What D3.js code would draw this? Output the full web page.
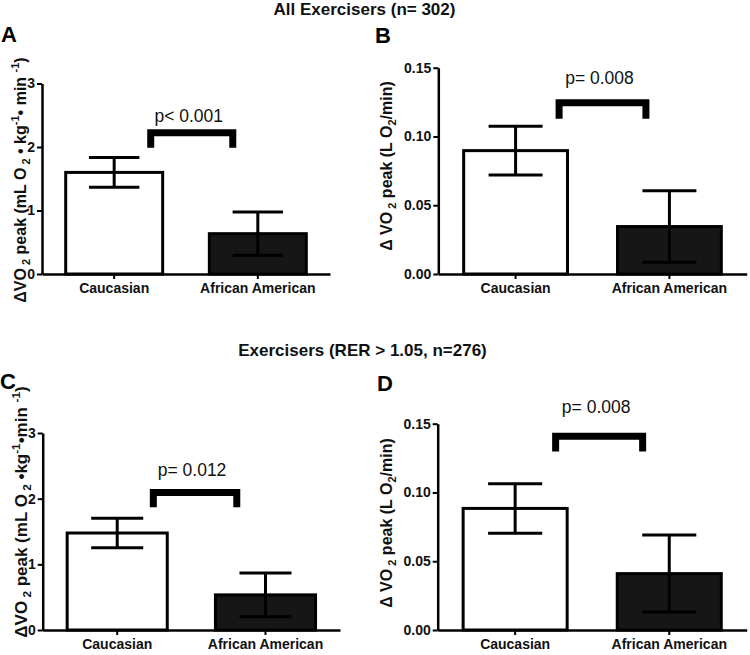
<!DOCTYPE html>
<html>
<head>
<meta charset="utf-8">
<script src="https://cdn.jsdelivr.net/npm/d3@7"></script>
<style>
  html, body { margin: 0; padding: 0; background: #fff; }
  svg { display: block; font-family: "Liberation Sans", Arial, Helvetica, sans-serif; }
</style>
</head>
<body>
<svg id="chart" width="750" height="655"></svg>
<script>
// ---------- DATA ----------
const categories = ["Caucasian", "African American"];

const meansA = [1.60, 0.635];
const semA   = [0.235, 0.34];
const meansB = [0.0897, 0.0345];
const semB   = [0.0178, 0.026];
const meansC = [1.477, 0.535];
const semC   = [0.225, 0.332];
const meansD = [0.0884, 0.041];
const semD   = [0.018, 0.028];

const ticksMassNorm = [0, 1, 2, 3];
const ticksAbsolute = [0, 0.05, 0.10, 0.15];

const pLabels = ["p< 0.001", "p= 0.008", "p= 0.012", "p= 0.008"];
const panelLetters = ["A", "B", "C", "D"];
const titles = ["All Exercisers (n= 302)", "Exercisers (RER > 1.05, n=276)"];

// bracket [leg bottom value, top value] and p-label value, in data units
const bracketA = [1.99, 2.28], pValA = 2.40;
const bracketB = [0.1128, 0.1271], pValB = 0.1383;
const bracketC = [1.87, 2.146], pValC = 2.344;
const bracketD = [0.1297, 0.1434], pValD = 0.158;

const labelMass = [["\u0394VO",""],[" 2","sub"],[" peak (mL O",""],[" 2","sub"],[" \u2022 kg",""],["-1","sup"],["\u2022 min ",""],["-1","sup"],[")",""]];
const labelMassC = [["\u0394VO",""],[" 2","sub"],[" peak (mL O",""],[" 2","sub"],[" \u2022kg",""],["-1","sup"],["\u2022min ",""],["-1","sup"],[")",""]];
const labelAbs = [["\u0394 VO",""],[" 2","sub"],[" peak (L O",""],["2","sub"],["/min)",""]];

// ---------- LAYOUT ----------
const panels = [
  { letter: panelLetters[0], means: meansA, sem: semA, ticks: ticksMassNorm, fmt: d3.format("d"), max: 3,
    x0: 42, x1: 330, y0: 274, yTop: 83.5, bracket: bracketA, brX: [0.23, 0.85], pVal: pValA, p: pLabels[0],
    label: labelMass, labelFs: 16, labelX: 26, labelY: 180, letterX: 1, letterY: 42 },
  { letter: panelLetters[1], means: meansB, sem: semB, ticks: ticksAbsolute, fmt: d3.format(".2f"), max: 0.15,
    x0: 438.3, x1: 746.7, y0: 274, yTop: 67.7, bracket: bracketB, brX: [0.26, 0.87], pVal: pValB, p: pLabels[1],
    label: labelAbs, labelFs: 16, labelX: 392, labelY: 166, letterX: 375, letterY: 43 },
  { letter: panelLetters[2], means: meansC, sem: semC, ticks: ticksMassNorm, fmt: d3.format("d"), max: 3,
    x0: 42.7, x1: 340, y0: 630, yTop: 433, bracket: bracketC, brX: [0.22, 0.83], pVal: pValC, p: pLabels[2],
    label: labelMassC, labelFs: 17, labelX: 27, labelY: 512, letterX: 0, letterY: 389 },
  { letter: panelLetters[3], means: meansD, sem: semD, ticks: ticksAbsolute, fmt: d3.format(".2f"), max: 0.15,
    x0: 437.7, x1: 746.7, y0: 630, yTop: 423.7, bracket: bracketD, brX: [0.24, 0.85], pVal: pValD, p: pLabels[3],
    label: labelAbs, labelFs: 16, labelX: 392, labelY: 523, letterX: 377, letterY: 391 }
];

const svg = d3.select("#chart");

// titles
svg.append("text").attr("x", 364.5).attr("y", 15).attr("text-anchor", "middle")
  .attr("font-size", 17).attr("font-weight", "bold").attr("fill", "#111").text(titles[0]);
svg.append("text").attr("x", 362.5).attr("y", 356).attr("text-anchor", "middle")
  .attr("font-size", 17).attr("font-weight", "bold").attr("fill", "#111").text(titles[1]);

function rotatedLabel(g, segs, x, y, fs) {
  const t = g.append("text")
    .attr("transform", `translate(${x},${y}) rotate(-90)`)
    .attr("text-anchor", "middle")
    .attr("font-size", fs).attr("font-weight", "bold").attr("fill", "#111");
  let shift = 0;
  const small = fs * 0.69;
  segs.forEach(([txt, kind]) => {
    const target = kind === "sub" ? fs * 0.25 : kind === "sup" ? -fs * 0.44 : 0;
    t.append("tspan").attr("dy", target - shift)
      .attr("font-size", kind ? small : fs).text(txt);
    shift = target;
  });
}

panels.forEach(P => {
  const g = svg.append("g");

  const x = d3.scaleBand().domain(categories).range([P.x0, P.x1])
    .paddingInner(0.325).paddingOuter(0.165);
  const y = d3.scaleLinear().domain([0, P.max]).range([P.y0, P.yTop]);
  const xi = d3.scaleLinear().domain([0, 1])
    .range([x(categories[0]) + x.bandwidth() / 2, x(categories[1]) + x.bandwidth() / 2]);

  const rows = categories.map((c, i) => ({ c, m: P.means[i], s: P.sem[i], i }));

  // bars
  g.selectAll("rect.bar").data(rows).join("rect")
    .attr("class", "bar")
    .attr("x", d => x(d.c))
    .attr("width", x.bandwidth())
    .attr("y", d => y(d.m))
    .attr("height", d => y(0) - y(d.m))
    .attr("fill", d => d.i === 0 ? "#fff" : "#161616")
    .attr("stroke", "#000").attr("stroke-width", 3);

  // error bars
  const capW = x.bandwidth() * 0.52;
  const eb = g.selectAll("g.err").data(rows).join("g").attr("class", "err")
    .attr("stroke", "#000").attr("stroke-width", 3);
  eb.append("line")
    .attr("x1", d => x(d.c) + x.bandwidth() / 2).attr("x2", d => x(d.c) + x.bandwidth() / 2)
    .attr("y1", d => y(d.m - d.s)).attr("y2", d => y(d.m + d.s));
  eb.append("line")
    .attr("x1", d => x(d.c) + x.bandwidth() / 2 - capW / 2).attr("x2", d => x(d.c) + x.bandwidth() / 2 + capW / 2)
    .attr("y1", d => y(d.m + d.s)).attr("y2", d => y(d.m + d.s));
  eb.append("line")
    .attr("x1", d => x(d.c) + x.bandwidth() / 2 - capW / 2).attr("x2", d => x(d.c) + x.bandwidth() / 2 + capW / 2)
    .attr("y1", d => y(d.m - d.s)).attr("y2", d => y(d.m - d.s));

  // axes
  const yAxis = g.append("g").attr("transform", `translate(${P.x0},0)`)
    .call(d3.axisLeft(y).tickValues(P.ticks).tickFormat(P.fmt).tickSize(5).tickSizeOuter(0).tickPadding(2));
  const xAxis = g.append("g").attr("transform", `translate(0,${P.y0})`)
    .call(d3.axisBottom(x).tickSize(5).tickSizeOuter(0).tickPadding(4));
  [yAxis, xAxis].forEach(a => {
    a.select(".domain").attr("stroke", "#000").attr("stroke-width", 2.5);
    a.selectAll(".tick line").attr("stroke", "#000").attr("stroke-width", 2);
    a.selectAll(".tick text").attr("fill", "#111").attr("font-size", 14).attr("font-weight", "bold")
      .attr("font-family", '"Liberation Sans", Arial, sans-serif');
  });

  // significance bracket
  const sw = 7;
  const bx1 = xi(P.brX[0]), bx2 = xi(P.brX[1]);
  const yLeg = y(P.bracket[0]), yTopB = y(P.bracket[1]);
  g.append("path")
    .attr("d", `M${bx1 + sw / 2},${yLeg} V${yTopB + sw / 2} H${bx2 - sw / 2} V${yLeg}`)
    .attr("fill", "none").attr("stroke", "#000").attr("stroke-width", sw)
    .attr("stroke-linejoin", "miter").attr("stroke-linecap", "butt");
  g.append("text").attr("x", (bx1 + bx2) / 2 - 3).attr("y", y(P.pVal))
    .attr("text-anchor", "middle").attr("font-size", 17.5).attr("fill", "#111").text(P.p);

  // panel letter
  g.append("text").attr("x", P.letterX).attr("y", P.letterY)
    .attr("font-size", 22).attr("font-weight", "bold").attr("fill", "#000").text(P.letter);

  rotatedLabel(g, P.label, P.labelX, P.labelY, P.labelFs);
});
</script>
</body>
</html>
